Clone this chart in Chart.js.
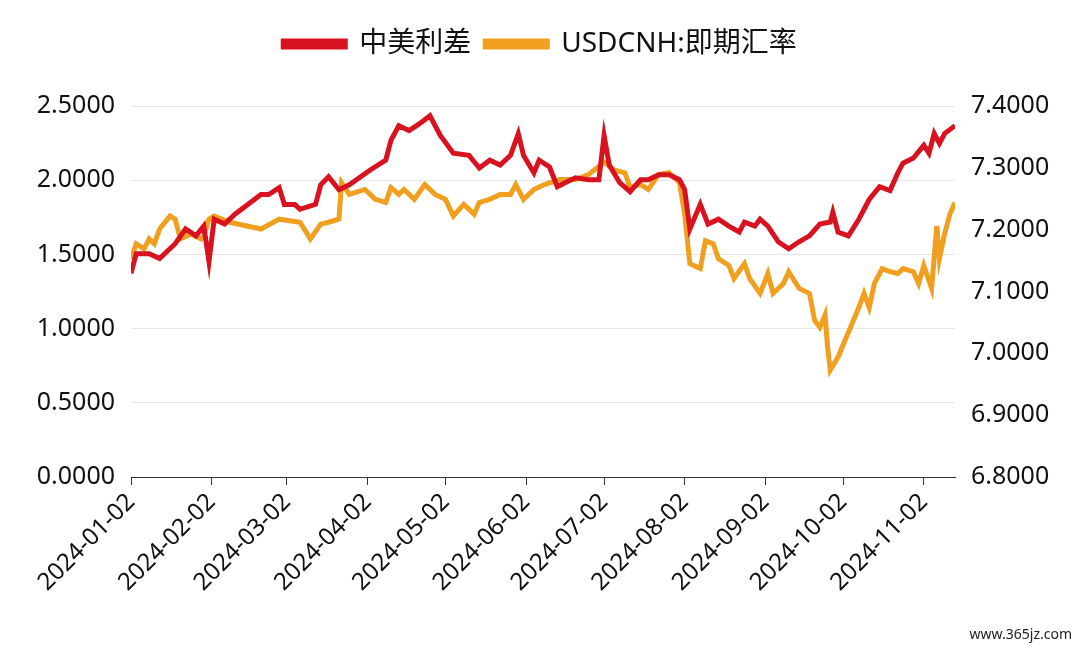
<!DOCTYPE html>
<html><head><meta charset="utf-8">
<script src="https://cdn.jsdelivr.net/npm/chart.js@4/dist/chart.umd.min.js"></script>
<style>html,body{margin:0;padding:0;background:#fff}#w{position:relative;width:1080px;height:651px}
#wm{position:absolute;right:8px;bottom:8px;font:14px "Noto Sans",sans-serif;color:#222}</style>
</head><body><div id="w"><canvas id="c" width="1080" height="651"></canvas><div id="wm">www.365jz.com</div></div>
<script>
const startDate = new Date(Date.UTC(2024,0,2));
const tickDays = [0,31,60,91,121,152,182,213,244,274,305];
const spreadDays = [0,2,7,11,17,21,25,28,30,32,36,40,50,53,57,59,63,65,71,73,76,80,84,92,98,100,103,107,111,115,119,124,130,134,138,142,146,149,151,155,157,161,164,167,171,176,180,182,184,188,192,196,199,203,207,211,213,215,219,222,226,230,234,236,240,242,245,249,253,257,261,265,269,270,272,276,280,284,288,292,295,297,301,305,307,309,311,313,317];
const spreadVals = [1.373,1.505,1.505,1.472,1.572,1.671,1.625,1.691,1.452,1.737,1.704,1.771,1.903,1.903,1.950,1.837,1.837,1.804,1.837,1.969,2.023,1.936,1.969,2.069,2.135,2.268,2.367,2.334,2.381,2.434,2.301,2.182,2.168,2.082,2.135,2.102,2.168,2.314,2.168,2.049,2.135,2.089,1.956,1.983,2.016,2.003,2.003,2.301,2.102,1.983,1.923,2.003,2.003,2.036,2.036,2.003,1.936,1.671,1.837,1.704,1.737,1.691,1.651,1.718,1.691,1.737,1.691,1.585,1.538,1.585,1.625,1.704,1.718,1.784,1.651,1.625,1.737,1.870,1.956,1.930,2.049,2.115,2.149,2.235,2.182,2.314,2.248,2.314,2.367];
const fxDays = [0,2,5,7,9,11,15,17,19,23,27,28,30,32,38,50,57,65,69,73,76,80,81,84,90,94,98,100,103,105,109,113,117,121,124,128,132,134,138,142,146,148,151,155,159,165,171,176,182,186,190,192,196,199,203,207,211,213,215,219,221,224,226,230,232,236,238,242,245,247,251,253,257,261,263,265,267,268,269,272,276,280,282,284,286,289,292,295,297,301,303,305,308,310,311,313,315,317];
const fxVals = [7.153,7.177,7.169,7.185,7.177,7.201,7.222,7.217,7.185,7.193,7.185,7.190,7.217,7.222,7.212,7.201,7.217,7.212,7.185,7.209,7.212,7.217,7.276,7.257,7.265,7.249,7.244,7.268,7.257,7.265,7.249,7.273,7.257,7.249,7.222,7.241,7.225,7.244,7.249,7.257,7.257,7.273,7.249,7.265,7.273,7.281,7.281,7.289,7.309,7.296,7.292,7.269,7.273,7.265,7.289,7.292,7.276,7.225,7.145,7.137,7.182,7.177,7.153,7.142,7.121,7.145,7.121,7.097,7.129,7.097,7.113,7.132,7.105,7.097,7.053,7.042,7.062,7.010,6.973,6.994,7.034,7.074,7.097,7.074,7.113,7.137,7.132,7.129,7.137,7.132,7.113,7.142,7.105,7.206,7.153,7.193,7.225,7.244];

const toPts=(d,v)=>d.slice(0,Math.min(d.length,v.length)).map((x,i)=>({x,y:v[i]}));
const fmtDay=d=>new Date(startDate.getTime()+d*86400000).toISOString().slice(0,10);
const F='"Noto Sans","Noto Sans CJK SC",sans-serif';
Chart.defaults.font.family=F;
Chart.defaults.color='#111';
const legendGap={id:'lgap',beforeInit(c){const f=c.legend.fit;c.legend.fit=function(){f.call(this);this.height+=38;};}};
new Chart(document.getElementById('c'),{
 type:'line',
 data:{datasets:[
  {label:'中美利差',data:toPts(spreadDays,spreadVals),yAxisID:'y',borderColor:'#d9121f',backgroundColor:'#d9121f',borderWidth:5,pointRadius:0,tension:0},
  {label:'USDCNH:即期汇率',data:toPts(fxDays,fxVals),yAxisID:'y1',borderColor:'#f0a01e',backgroundColor:'#f0a01e',borderWidth:5,pointRadius:0,tension:0}
 ]},
 plugins:[legendGap],
 options:{responsive:false,animation:false,
  layout:{padding:{left:0,right:0,top:16,bottom:0}},
  plugins:{legend:{labels:{font:{size:28,family:F},boxWidth:62,boxHeight:6,padding:14,color:'#111'}},tooltip:{enabled:false}},
  scales:{
   x:{type:'linear',min:0,max:317,
     afterBuildTicks:a=>{a.ticks=tickDays.map(v=>({value:v}));},
     ticks:{callback:v=>fmtDay(v),maxRotation:45,minRotation:45,font:{size:24},color:'#111',autoSkip:false},
     grid:{display:true,drawOnChartArea:false,color:'#333',tickLength:8},border:{color:'#333'},
     afterFit:s=>{s.height=174;}},
   y:{position:'left',min:0,max:2.5,ticks:{stepSize:0.5,callback:v=>v.toFixed(4),font:{size:25},color:'#111',padding:16},
     grid:{color:'#e6e6e6',drawTicks:false},border:{display:false},afterFit:s=>{s.width=131;}},
   y1:{position:'right',min:6.8,max:7.4,ticks:{stepSize:0.1,callback:v=>v.toFixed(4),font:{size:25},color:'#111',padding:16},
     grid:{display:false,drawTicks:false},border:{display:false},afterFit:s=>{s.width=125;}}
  }}
});
</script></body></html>
